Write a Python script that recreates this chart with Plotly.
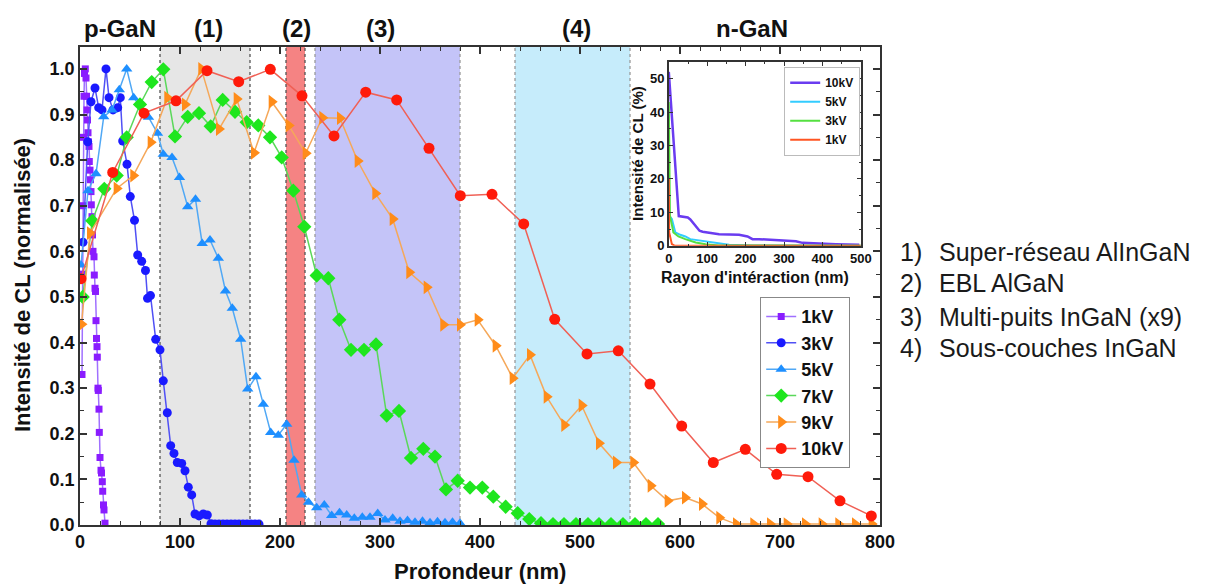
import plotly.graph_objects as go

# ---------------- data ----------------
x_1kv = [2.0, 2.5, 3.0, 3.5, 4.0, 4.5, 5.3, 6.0, 6.5, 7.0, 7.5, 8.0, 8.5, 9.0, 9.3, 10.0, 10.5, 11.0, 11.3, 12.0,
         12.5, 13.0, 14.0, 14.3, 15.0, 15.5, 16.0, 16.5, 17.0, 17.3, 18.0, 18.3, 19.0, 19.3, 20.0, 21.0, 21.5,
         22.3, 22.7, 23.5, 24.0, 25.0]
y_1kv = [0.33, 0.55, 0.70, 0.85, 0.94, 0.99, 1.0, 0.98, 0.94, 0.91, 0.888, 0.86, 0.84, 0.83, 0.797, 0.778, 0.757,
         0.731, 0.702, 0.676, 0.636, 0.60, 0.588, 0.548, 0.519, 0.512, 0.448, 0.409, 0.391, 0.368, 0.30, 0.295,
         0.254, 0.203, 0.148, 0.12, 0.114, 0.095, 0.074, 0.044, 0.033, 0.004]

x_3kv = [3.0, 7.7, 11.0, 15.0, 18.7, 22.0, 26.0, 29.0, 33.0, 37.7, 40.3, 42.7, 47.0, 50.3, 54.5, 57.7, 61.7, 65.5,
         67.5, 70.5, 75.7, 80.0, 83.3, 87.3, 90.7, 94.0, 97.3, 101.7, 105.0, 108.3, 111.7, 115.0, 119.0, 123.3,
         127.3, 131.0, 135.0, 139.0, 143.0, 147.0, 151.0, 155.0, 159.0, 163.0, 167.0, 171.0, 175.0, 179.0]
y_3kv = [0.62, 0.84, 0.928, 0.958, 0.915, 0.91, 1.0, 0.937, 0.91, 0.915, 0.937, 0.842, 0.791, 0.72, 0.668, 0.592,
         0.578, 0.558, 0.497, 0.503, 0.407, 0.384, 0.316, 0.246, 0.174, 0.157, 0.137, 0.135, 0.119, 0.083, 0.066,
         0.024, 0.02, 0.024, 0.022, 0.003, 0.002, 0.002, 0.002, 0.002, 0.002, 0.002, 0.002, 0.002, 0.002, 0.002,
         0.002, 0.002]

x_5kv = [1.0, 8.0, 16.0, 23.7, 32.0, 39.3, 46.7, 53.7, 68.5, 77.5, 83.3, 92.0, 99.5, 107.7, 115.5, 122.2, 130.0,
         138.3, 145.5, 152.3, 160.7, 167.7, 176.0, 183.3, 190.7, 198.3, 206.7, 214.0, 221.7, 228.5, 236.7, 244.3,
         251.7, 259.5, 266.7, 274.3, 282.3, 290.0, 297.7, 305.0, 312.7, 320.0, 327.5, 335.0, 342.5, 350.0, 357.5,
         365.0, 372.5, 380.0]
y_5kv = [0.57, 0.733, 0.77, 0.895, 0.91, 0.954, 1.0, 0.937, 0.894, 0.859, 0.813, 0.806, 0.762, 0.698, 0.714, 0.617,
         0.625, 0.585, 0.513, 0.475, 0.407, 0.298, 0.325, 0.265, 0.203, 0.197, 0.221, 0.142, 0.066, 0.05, 0.038,
         0.044, 0.021, 0.027, 0.022, 0.015, 0.017, 0.017, 0.025, 0.011, 0.015, 0.008, 0.01, 0.006, 0.008, 0.005,
         0.007, 0.005, 0.006, 0.004]

x_7kv = [2.7, 12.3, 24.3, 36.7, 46.7, 60.0, 71.7, 83.3, 95.0, 107.7, 119.0, 130.7, 142.7, 155.0, 166.7, 178.3,
         190.0, 201.7, 213.3, 224.3, 236.7, 248.3, 259.3, 271.0, 284.0, 296.0, 306.7, 319.0, 331.0, 343.3, 355.0,
         366.0, 377.7, 390.0, 402.3, 413.3, 425.7, 437.7, 449.3, 461.0, 473.0, 484.0, 496.0, 508.0, 519.0, 531.0,
         543.0, 555.0, 566.0, 578.0]
y_7kv = [0.50, 0.667, 0.737, 0.766, 0.85, 0.922, 0.971, 0.999, 0.852, 0.895, 0.903, 0.874, 0.932, 0.906, 0.883,
         0.876, 0.85, 0.806, 0.733, 0.654, 0.547, 0.541, 0.45, 0.384, 0.384, 0.396, 0.24, 0.25, 0.147, 0.167, 0.15,
         0.078, 0.097, 0.082, 0.082, 0.062, 0.04, 0.026, 0.013, 0.004, 0.002, 0.002, 0.002, 0.002, 0.002, 0.002,
         0.002, 0.002, 0.002, 0.002]

x_9kv = [1.5, 10.0, 36.7, 53.3, 70.7, 87.3, 105.0, 121.3, 139.0, 156.7, 174.0, 191.7, 208.7, 225.7, 242.3, 260.0,
         277.7, 295.3, 312.7, 329.3, 346.7, 363.3, 380.0, 397.7, 415.7, 432.7, 450.0, 466.7, 484.3, 501.7, 519.0,
         536.0, 553.3, 570.7, 587.7, 605.0, 622.0, 639.3, 656.0, 673.3, 690.0, 706.7, 725.0, 741.7, 758.3, 775.0,
         791.7]
y_9kv = [0.44, 0.64, 0.738, 0.766, 0.839, 0.937, 0.922, 1.0, 0.868, 0.934, 0.816, 0.928, 0.876, 0.815, 0.893,
         0.892, 0.798, 0.727, 0.671, 0.554, 0.521, 0.439, 0.439, 0.45, 0.393, 0.322, 0.373, 0.281, 0.219, 0.262,
         0.179, 0.137, 0.137, 0.086, 0.053, 0.06, 0.046, 0.016, 0.002, 0.002, 0.002, 0.002, 0.002, 0.002, 0.002,
         0.002, 0.002]

x_10kv = [1.0, 32.7, 64.0, 96.0, 127.0, 158.7, 190.3, 222.0, 254.0, 285.7, 316.7, 349.0, 380.3, 412.0, 443.7,
          474.7, 507.0, 538.3, 570.0, 601.7, 633.3, 665.3, 696.7, 728.0, 760.0, 791.3]
y_10kv = [0.54, 0.773, 0.903, 0.93, 0.996, 0.972, 0.999, 0.941, 0.853, 0.949, 0.932, 0.826, 0.722, 0.725, 0.66,
          0.451, 0.375, 0.382, 0.309, 0.217, 0.137, 0.166, 0.111, 0.106, 0.053, 0.02]

# inset: CL intensity (%) vs interaction radius (nm)
ins_x_10kv = [0, 26, 49.5, 56, 80, 88, 131, 157, 183, 205, 218, 235, 305, 331, 348, 392, 435, 496]
ins_y_10kv = [52, 8.9, 8.5, 7.9, 4.5, 4.2, 3.5, 3.3, 3.3, 2.8, 2.0, 2.0, 1.5, 1.4, 0.9, 0.8, 0.5, 0.3]
ins_x_5kv = [0, 1, 8, 17, 30, 43, 56, 87, 122, 157, 218, 500]
ins_y_5kv = [40, 9, 8, 4, 3.3, 2.8, 2.0, 1.5, 0.8, 0.3, 0.1, 0.05]
ins_x_3kv = [0, 3, 12, 25, 43, 70, 96, 130, 500]
ins_y_3kv = [43, 9, 4, 2.8, 2.0, 1.0, 0.5, 0.1, 0.02]
ins_x_1kv = [0, 1, 8, 16, 500]
ins_y_1kv = [20, 4, 0.5, 0.0, 0.0]

# layer regions (nm)
region_names = ["(1)", "(2)", "(3)", "(4)"]
region_start = [80, 206, 235, 435]
region_end = [170, 225, 380, 550]

top_labels = ["p-GaN", "(1)", "(2)", "(3)", "(4)", "n-GaN"]
top_label_x = [40, 128, 216, 300, 496, 672]

legend_items = ["1)", "2)", "3)", "4)"]
legend_texts = ["Super-réseau AlInGaN", "EBL AlGaN", "Multi-puits InGaN (x9)", "Sous-couches InGaN"]

# ---------------- styles ----------------
FONT = "Liberation Sans, Arial, sans-serif"
region_fill = ["#e6e6e6", "#f58383", "#c4c4f8", "#c6ecfb"]
region_edge = ["#555555", "#555555", "#9a9a9a", "#9a9a9a"]

fig = go.Figure()

series = [
    ("1kV", x_1kv, y_1kv, "#8a1cff", "#a070ff", "square", 7),
    ("3kV", x_3kv, y_3kv, "#1a1aff", "#5050f5", "circle", 9),
    ("5kV", x_5kv, y_5kv, "#1e8fff", "#50a8f5", "triangle-up", 10),
    ("7kV", x_7kv, y_7kv, "#1ee61e", "#5ad85a", "diamond", 11),
    ("9kV", x_9kv, y_9kv, "#ff8c1a", "#f5a85a", "triangle-right", 12),
    ("10kV", x_10kv, y_10kv, "#ff1a0a", "#f06055", "circle", 11),
]
for name, xs, ys, mc, lc, sym, sz in series:
    fig.add_trace(go.Scatter(
        x=xs, y=ys, name=name, mode="lines+markers",
        line=dict(color=lc, width=1.5),
        marker=dict(color=mc, symbol=sym, size=sz, line=dict(width=0)),
        xaxis="x", yaxis="y", legend="legend",
    ))

inset = [
    ("10kV", ins_x_10kv, ins_y_10kv, "#6a3cf0", 2.5),
    ("5kV", ins_x_5kv, ins_y_5kv, "#33ccff", 2),
    ("3kV", ins_x_3kv, ins_y_3kv, "#55e040", 2),
    ("1kV", ins_x_1kv, ins_y_1kv, "#ff5522", 2),
]
for name, xs, ys, c, w in inset:
    fig.add_trace(go.Scatter(
        x=xs, y=ys, name=name, mode="lines", line=dict(color=c, width=w),
        xaxis="x2", yaxis="y2", legend="legend2",
    ))

shapes = []
for s, e, fc, ec in zip(region_start, region_end, region_fill, region_edge):
    shapes.append(dict(type="rect", xref="x", yref="y", x0=s, x1=e, y0=0, y1=1.048,
                       fillcolor=fc, line=dict(width=0), layer="below"))
    for xv in (s, e):
        shapes.append(dict(type="line", xref="x", yref="y", x0=xv, x1=xv, y0=0, y1=1.048,
                           line=dict(color=ec, width=1.3, dash="dot"), layer="below"))

annotations = []
for lab, xv in zip(top_labels, top_label_x):
    annotations.append(dict(text=f"<b>{lab}</b>", x=xv, xref="x", y=1.038, yref="paper",
                            showarrow=False, font=dict(family=FONT, size=24, color="#111"),
                            xanchor="center", yanchor="middle"))
ys_right = [0.572, 0.506, 0.436, 0.370]
for num, txt, yv in zip(legend_items, legend_texts, ys_right):
    annotations.append(dict(text=num, x=1.0225, xref="paper", y=yv, yref="paper", showarrow=False,
                            font=dict(family=FONT, size=25, color="#1a1a1a"), xanchor="left", yanchor="middle"))
    annotations.append(dict(text=txt, x=1.071, xref="paper", y=yv, yref="paper", showarrow=False,
                            font=dict(family=FONT, size=25, color="#1a1a1a"), xanchor="left", yanchor="middle"))

annotations += [
    dict(text="<b>Profondeur (nm)</b>", x=0.5, xref="paper", y=-0.098, yref="paper", showarrow=False,
         font=dict(family=FONT, size=22, color="#111"), xanchor="center", yanchor="middle"),
    dict(text="<b>Intensité de CL (normalisée)</b>", x=-0.0725, xref="paper", y=0.502, yref="paper",
         showarrow=False, textangle=-90, font=dict(family=FONT, size=22, color="#111"),
         xanchor="center", yanchor="middle"),
    dict(text="<b>Intensité de CL (%)</b>", x=0.696, xref="paper", y=0.778, yref="paper",
         showarrow=False, textangle=-90, font=dict(family=FONT, size=15, color="#111"),
         xanchor="center", yanchor="middle"),
    dict(text="<b>Rayon d'intéraction (nm)</b>", x=0.844, xref="paper", y=0.517, yref="paper",
         showarrow=False, font=dict(family=FONT, size=16, color="#111"),
         xanchor="center", yanchor="middle"),
]

axis_common = dict(showgrid=False, zeroline=False, showline=True, linecolor="#333", linewidth=1.5,
                   mirror="allticks", ticks="inside", tickcolor="#333")

# the page body has an 8px margin: compensate so the plot area lands at the right pixels
fig.update_layout(
    width=1206, height=577,
    margin=dict(l=72, r=334, t=39, b=60),
    paper_bgcolor="white", plot_bgcolor="white",
    font=dict(family=FONT, color="#111"),
    xaxis=dict(range=[0, 800], domain=[0, 1], dtick=100, ticklen=7, tickwidth=1.5,
               tickfont=dict(family=FONT, size=18, weight="bold", color="#111"),
               minor=dict(dtick=20, ticks="inside", ticklen=4, tickcolor="#333", tickwidth=1.2),
               **axis_common),
    yaxis=dict(range=[0, 1.048], domain=[0, 1], dtick=0.1, tickformat=".1f", ticklen=7, tickwidth=1.5,
               tickfont=dict(family=FONT, size=18, weight="bold", color="#111"),
               minor=dict(dtick=0.05, ticks="inside", ticklen=4, tickcolor="#333", tickwidth=1.2),
               **axis_common),
    xaxis2=dict(range=[0, 500], domain=[0.736, 0.976], anchor="y2", dtick=100, ticklen=4,
                tickfont=dict(family=FONT, size=13, weight="bold", color="#111"),
                minor=dict(dtick=50, ticks="inside", ticklen=2, tickcolor="#333"),
                **axis_common),
    yaxis2=dict(range=[0, 55], domain=[0.584, 0.969], anchor="x2", dtick=10, ticklen=4,
                tickfont=dict(family=FONT, size=13, weight="bold", color="#111"),
                minor=dict(dtick=5, ticks="inside", ticklen=2, tickcolor="#333"),
                **axis_common),
    legend=dict(x=0.85, y=0.477, xanchor="left", yanchor="top", bgcolor="white",
                bordercolor="#888", borderwidth=1.2,
                font=dict(family=FONT, size=18, weight="bold", color="#111"), tracegroupgap=0),
    legend2=dict(x=0.88, y=0.958, xanchor="left", yanchor="top", bgcolor="white",
                 bordercolor="#bbb", borderwidth=1.2,
                 font=dict(family=FONT, size=12, weight="bold", color="#111"), tracegroupgap=0),
    shapes=shapes,
    annotations=annotations,
)

fig.write_html("out.html")
